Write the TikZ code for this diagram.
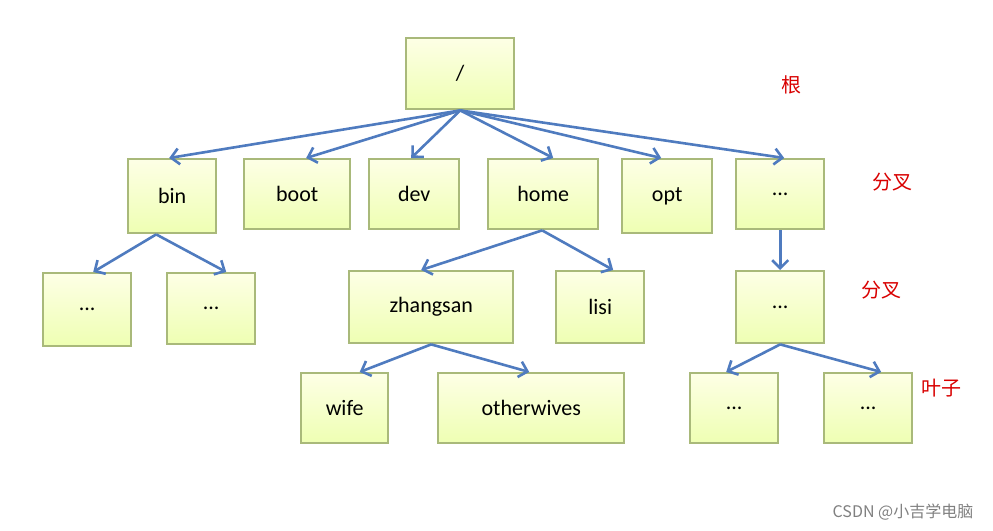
\documentclass[tikz,border=0pt]{standalone}
\usepackage{fontspec}
\usetikzlibrary{arrows.meta}
\setmainfont{Carlito}
\newfontfamily\cjk{Noto Sans CJK SC}
\definecolor{arr}{HTML}{4F7BBF}
\definecolor{bd}{HTML}{A9B97A}
\begin{document}
\begin{tikzpicture}[x=1pt,y=-1pt,
 bx/.style={draw=bd,line width=2.4pt,top color=green!6!yellow!10,bottom color=green!22!yellow!30!white,anchor=north west,inner sep=0pt,font=\fontsize{22}{25}\selectfont},
 ar/.style={draw=arr,line width=2.6pt,-{Straight Barb[length=8pt,width=16pt]}},
 rl/.style={text=red!85!black,font=\cjk\fontsize{20}{23}\selectfont}]
\useasboundingbox (0,0) rectangle (993,530);
\fill[white] (0,0) rectangle (993,530);
\newcommand\bxn[6]{\node[bx,minimum width=#4-#2,minimum height=#5-#3] (#1) at (#2,#3) {#6};}
\bxn{root}{405}{37}{513}{108}{/}
\bxn{bin}{127}{158}{215}{232}{bin}
\bxn{boot}{243}{158}{349}{228}{boot}
\bxn{dev}{368}{158}{458}{228}{dev}
\bxn{home}{487}{158}{597}{228}{home}
\bxn{opt}{621}{158}{711}{232}{opt}
\bxn{dots}{735}{158}{823}{228}{...}
\bxn{ba}{42}{272}{130}{345}{...}
\bxn{bb}{166}{272}{254}{343}{...}
\bxn{zs}{348}{270}{512}{342}{zhangsan}
\bxn{lisi}{555}{270}{643}{342}{lisi}
\bxn{dd}{735}{270}{823}{342}{...}
\bxn{wife}{300}{372}{387}{442}{wife}
\bxn{ow}{437}{372}{623}{442}{otherwives}
\bxn{da}{689}{372}{777}{442}{...}
\bxn{db}{823}{372}{911}{442}{...}
\draw[ar] (root.south) -- ([xshift=-3pt]bin.north);
\draw[ar] (root.south) -- ([xshift=9pt]boot.north);
\draw[ar] (root.south) -- ([xshift=-3pt]dev.north);
\draw[ar] (root.south) -- ([xshift=10pt]home.north);
\draw[ar] (root.south) -- ([xshift=-6pt]opt.north);
\draw[ar] (root.south) -- ([xshift=4pt]dots.north);
\draw[ar] ([xshift=-16pt]bin.south) -- ([xshift=6pt]ba.north);
\draw[ar] ([xshift=-16pt]bin.south) -- ([xshift=15pt]bb.north);
\draw[ar] ([xshift=-1pt]home.south) -- ([xshift=-10pt]zs.north);
\draw[ar] ([xshift=-1pt]home.south) -- ([xshift=13pt]lisi.north);
\draw[ar] (dots.south) -- (dd.north);
\draw[ar] (zs.south) -- ([xshift=15pt]wife.north);
\draw[ar] (zs.south) -- ([xshift=-2pt]ow.north);
\draw[ar] (dd.south) -- ([xshift=-8pt]da.north);
\draw[ar] (dd.south) -- ([xshift=13pt]db.north);
\node[rl] (l1) at (791,85) {根};
\node[rl] (l2) at (892,182) {分叉};
\node[rl] (l3) at (881,290) {分叉};
\node[rl] (l4) at (941,388) {叶子};
\node[text=gray,font=\cjk\fontsize{16}{19}\selectfont] (wm) at (903,512) {CSDN @小吉学电脑};
\end{tikzpicture}
\end{document}
